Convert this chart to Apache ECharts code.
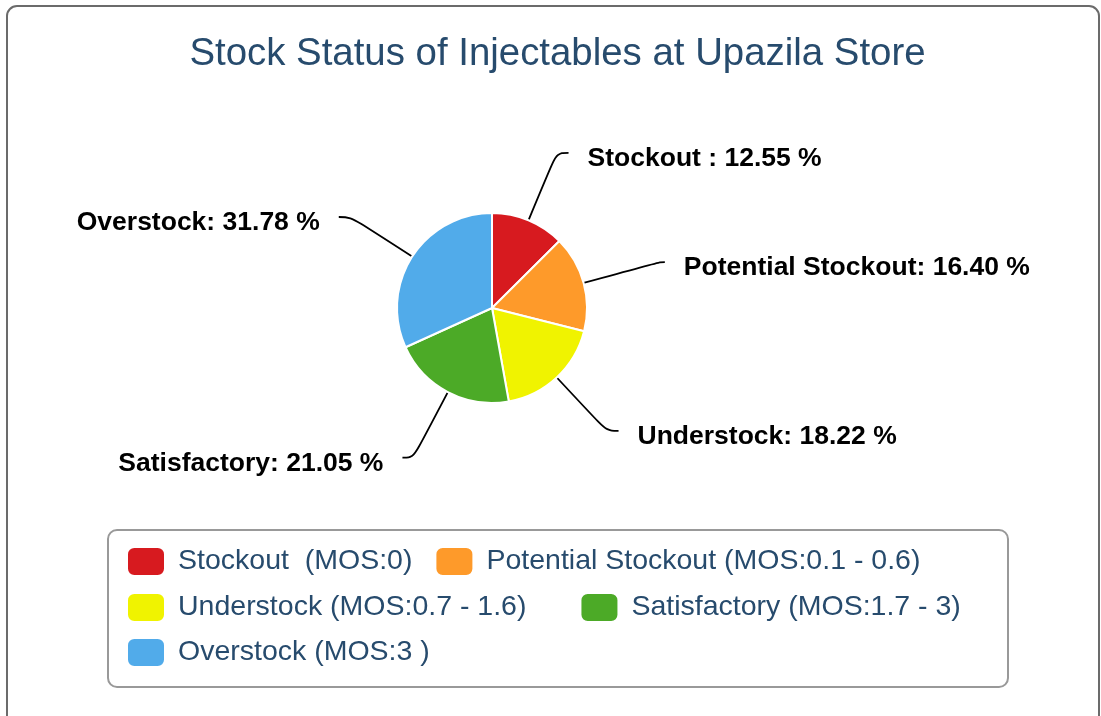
<!DOCTYPE html>
<html>
<head>
<meta charset="utf-8">
<script src="https://cdn.jsdelivr.net/npm/echarts@6/dist/echarts.min.js"></script>
<style>
html,body{margin:0;padding:0;background:#fff;}
#chart{width:1101px;height:716px;}
</style>
</head>
<body>
<div id="chart"></div>
<script>
var legendNames = ["Stockout  (MOS:0)", "Potential Stockout (MOS:0.1 - 0.6)", "Understock (MOS:0.7 - 1.6)", "Satisfactory (MOS:1.7 - 3)", "Overstock (MOS:3 )"];
var labelNames = ["Stockout :", "Potential Stockout:", "Understock:", "Satisfactory:", "Overstock:"];
var values = [12.55, 16.40, 18.22, 21.05, 31.78];
var colors = ["#d71a1f", "#fe9a2a", "#f0f300", "#4caa27", "#51abea"];
var connectorLength = [73, 79, 73, 74, 73];
var connectorLength2 = [12, 5, 12, 11, 12];

var fontFamily = '"Liberation Sans", Arial, Helvetica, sans-serif';
var chart = echarts.init(document.getElementById('chart'), null, {renderer: 'canvas'});

var data = legendNames.map(function (n, i) {
  return {
    name: n,
    value: values[i],
    itemStyle: {color: colors[i]},
    labelLine: {length: connectorLength[i], length2: connectorLength2[i]}
  };
});

function legendRow(names, top, gap) {
  return {
    data: names,
    left: 126,
    top: top,
    orient: 'horizontal',
    itemGap: gap,
    itemWidth: 38,
    itemHeight: 29,
    icon: 'roundRect',
    padding: 0,
    selectedMode: false,
    textStyle: {fontFamily: fontFamily, fontSize: 28.5, color: '#274b6d', padding: [0, 0, 0, 8]}
  };
}

chart.setOption({
  animation: false,
  title: {
    text: 'Stock Status of Injectables at Upazila Store',
    left: 552.5,
    textAlign: 'center',
    top: 30,
    textStyle: {fontFamily: fontFamily, fontSize: 38.4, fontWeight: 'normal', color: '#274b6d'}
  },
  legend: [
    legendRow([legendNames[0], legendNames[1]], 546, 22),
    legendRow([legendNames[2], legendNames[3]], 592, 53),
    legendRow([legendNames[4]], 637, 20)
  ],
  graphic: [
    {type: 'rect', z: -10, shape: {x: 7, y: 6, width: 1092, height: 760, r: 10},
     style: {fill: 'none', stroke: '#6b6b6b', lineWidth: 2}},
    {type: 'rect', z: -10, shape: {x: 108, y: 530, width: 900, height: 157, r: 9},
     style: {fill: 'none', stroke: '#999999', lineWidth: 2}}
  ],
  series: [{
    type: 'pie',
    center: [492, 308],
    radius: 95,
    startAngle: 90,
    clockwise: true,
    data: data,
    itemStyle: {borderColor: '#ffffff', borderWidth: 2},
    label: {
      show: true,
      position: 'outside',
      formatter: function (p) { return '{t|' + labelNames[p.dataIndex] + ' ' + values[p.dataIndex].toFixed(2) + ' %}'; },
      fontFamily: fontFamily,
      fontSize: 26.5,
      fontWeight: 'bold',
      color: '#000000',
      distanceToLabelLine: 19,
      rich: {
        t: {
          fontFamily: fontFamily,
          fontSize: 26.5,
          fontWeight: 'bold',
          color: '#000000',
          padding: [12, 0, 0, 0]
        }
      }
    },
    labelLine: {
      show: true,
      smooth: 0.4,
      lineStyle: {color: '#000000', width: 1.8}
    },
    emphasis: {disabled: true}
  }]
});
</script>
</body>
</html>
